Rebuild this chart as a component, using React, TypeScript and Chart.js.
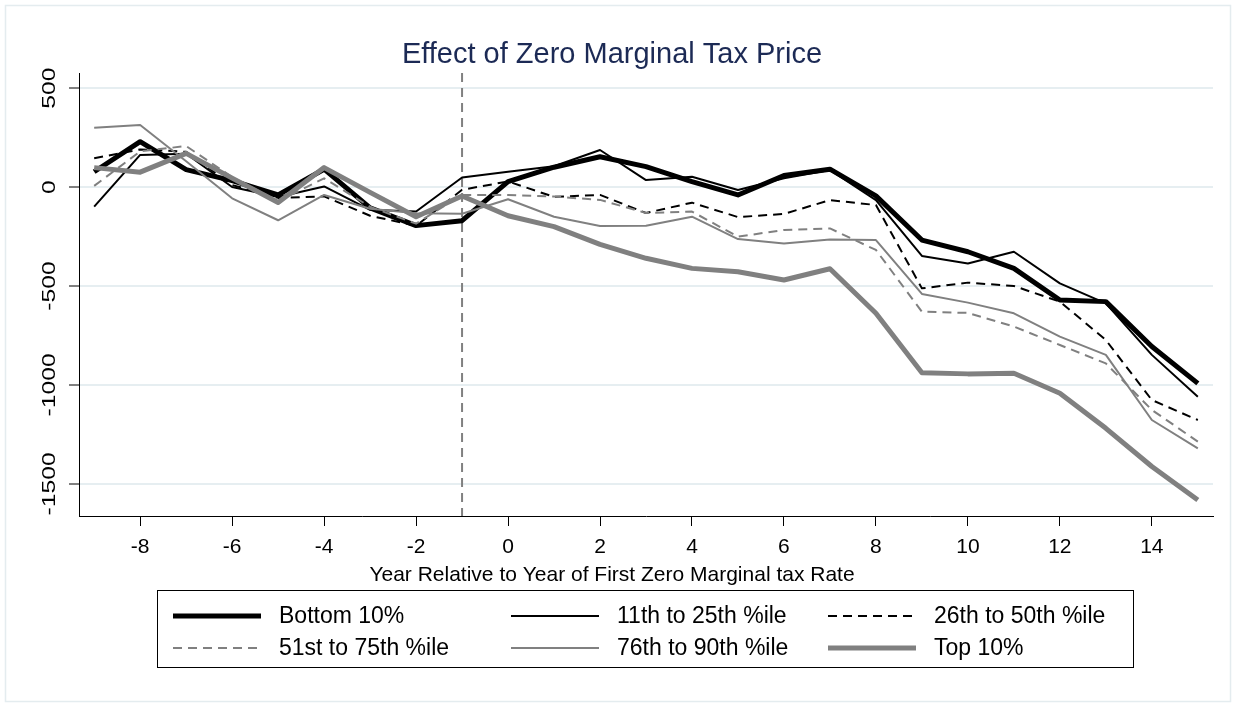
import React, { useEffect, useRef } from 'react';
import { Chart, registerables } from 'chart.js';

Chart.register(...registerables);

// ---- data ----
const years = [-9, -8, -7, -6, -5, -4, -3, -2, -1, 0, 1, 2, 3, 4, 5, 6, 7, 8, 9, 10, 11, 12, 13, 14, 15];

const bottom10 = [77, 229, 88, 32, -40, 90, -105, -195, -170, 27, 100, 153, 103, 27, -40, 58, 90, -45, -268, -327, -411, -571, -579, -806, -992];
const p11to25 = [-99, 162, 168, 0, -50, 3, -115, -124, 48, 77, 105, 187, 35, 52, -15, 44, 86, -66, -348, -386, -327, -487, -588, -848, -1059];
const p26to50 = [145, 190, 178, 10, -55, -47, -145, -196, -14, 28, -50, -40, -131, -79, -152, -136, -66, -91, -512, -483, -500, -579, -773, -1076, -1177];
const p51to75 = [6, 180, 207, 50, -72, 44, -100, -185, -40, -40, -48, -65, -131, -124, -251, -217, -209, -318, -630, -636, -705, -798, -891, -1126, -1286];
const p76to90 = [299, 313, 130, -57, -168, -40, -110, -133, -135, -62, -150, -197, -196, -150, -263, -285, -265, -268, -540, -584, -638, -756, -848, -1177, -1320];
const top10 = [98, 75, 170, 45, -78, 98, -27, -150, -45, -145, -200, -290, -360, -411, -428, -470, -413, -638, -938, -944, -941, -1042, -1219, -1412, -1581];

const seriesLabels = ['Bottom 10%', '11th to 25th %ile', '26th to 50th %ile', '51st to 75th %ile', '76th to 90th %ile', 'Top 10%'];
const seriesValues = [bottom10, p11to25, p26to50, p51to75, p76to90, top10];

const xTicks = [-8, -6, -4, -2, 0, 2, 4, 6, 8, 10, 12, 14];
const yTicks = [500, 0, -500, -1000, -1500];
const eventYear = -1;

const titleText = 'Effect of Zero Marginal Tax Price';
const xAxisTitle = 'Year Relative to Year of First Zero Marginal tax Rate';

// ---- styles ----
const FONT = '"Liberation Sans", Arial, Helvetica, sans-serif';
const BLACK = '#000000';
const GRAY = '#808080';
const seriesStyles = [
  { color: BLACK, width: 5, dash: [] as number[] },
  { color: BLACK, width: 2, dash: [] as number[] },
  { color: BLACK, width: 2, dash: [9, 6] },
  { color: GRAY, width: 2, dash: [9, 6] },
  { color: GRAY, width: 2, dash: [] as number[] },
  { color: GRAY, width: 5, dash: [] as number[] },
];

const decorPlugin = {
  id: 'decor',
  beforeDraw(chart: any) {
    const ctx = chart.ctx;
    ctx.save();
    ctx.fillStyle = '#ffffff';
    ctx.fillRect(0, 0, chart.width, chart.height);
    ctx.strokeStyle = '#e4ecef';
    ctx.lineWidth = 1.5;
    ctx.strokeRect(5.5, 5.5, chart.width - 11, chart.height - 11);
    ctx.restore();
  },
  beforeDatasetsDraw(chart: any) {
    const ctx = chart.ctx;
    const xs = chart.scales.x;
    const area = chart.chartArea;
    const px = xs.getPixelForValue(eventYear);
    ctx.save();
    ctx.strokeStyle = GRAY;
    ctx.lineWidth = 2;
    ctx.setLineDash([9, 6]);
    ctx.beginPath();
    ctx.moveTo(px, area.top);
    ctx.lineTo(px, area.bottom);
    ctx.stroke();
    ctx.restore();
  },
  afterDraw(chart: any) {
    const ctx = chart.ctx;
    const ys = chart.scales.y;
    const area = chart.chartArea;
    ctx.save();
    // title
    ctx.fillStyle = '#1c2a55';
    ctx.font = `29px ${FONT}`;
    ctx.textAlign = 'center';
    ctx.textBaseline = 'alphabetic';
    ctx.fillText(titleText, 612, 63);

    // y tick labels (rotated)
    ctx.fillStyle = BLACK;
    ctx.font = `19px ${FONT}`;
    yTicks.forEach((v) => {
      const py = ys.getPixelForValue(v);
      ctx.save();
      ctx.translate(area.left - 24, py);
      ctx.rotate(-Math.PI / 2);
      ctx.scale(1.3, 1);
      ctx.textAlign = 'center';
      ctx.textBaseline = 'alphabetic';
      ctx.fillText(String(v), 0, 0);
      ctx.restore();
    });

    // x axis title
    ctx.font = `21px ${FONT}`;
    ctx.textAlign = 'center';
    ctx.fillText(xAxisTitle, 612, 581);

    // legend
    const bx = 157, by = 590, bw = 976, bh = 77;
    ctx.strokeStyle = BLACK;
    ctx.lineWidth = 1;
    ctx.strokeRect(bx + 0.5, by + 0.5, bw, bh);
    const colX = [173, 511, 828];
    const rowY = [616, 648];
    const lineLen = 88;
    ctx.font = `23px ${FONT}`;
    ctx.textAlign = 'left';
    ctx.textBaseline = 'middle';
    chart.data.datasets.forEach((ds: any, i: number) => {
      const cx = colX[i % 3];
      const cy = rowY[Math.floor(i / 3)];
      ctx.save();
      ctx.strokeStyle = ds.borderColor;
      ctx.lineWidth = ds.borderWidth;
      ctx.setLineDash(ds.borderDash || []);
      ctx.beginPath();
      ctx.moveTo(cx, cy);
      ctx.lineTo(cx + lineLen, cy);
      ctx.stroke();
      ctx.restore();
      ctx.fillStyle = BLACK;
      ctx.fillText(ds.label, cx + lineLen + 18, cy + 1);
    });
    ctx.restore();
  },
};

export default function App() {
  const canvasRef = useRef<HTMLCanvasElement | null>(null);

  useEffect(() => {
    const canvas = canvasRef.current;
    if (!canvas) return;
    const datasets = seriesValues.map((vals, i) => ({
      label: seriesLabels[i],
      data: years.map((x, j) => ({ x, y: vals[j] })),
      borderColor: seriesStyles[i].color,
      backgroundColor: seriesStyles[i].color,
      borderWidth: seriesStyles[i].width,
      borderDash: seriesStyles[i].dash,
      borderJoinStyle: 'round' as const,
      pointRadius: 0,
      tension: 0,
      fill: false,
      order: seriesValues.length - i,
    }));

    const chart = new Chart(canvas, {
      type: 'line',
      data: { datasets },
      options: {
        animation: false,
        responsive: false,
        devicePixelRatio: 1,
        layout: { padding: { top: 73, right: 23, left: 0, bottom: 0 } },
        plugins: { legend: { display: false }, title: { display: false }, tooltip: { enabled: false } },
        scales: {
          x: {
            type: 'linear',
            min: -9.33,
            max: 15.33,
            afterBuildTicks: (s: any) => {
              s.ticks = xTicks.map((v) => ({ value: v }));
            },
            afterFit: (s: any) => {
              s.height = 191;
            },
            grid: { drawOnChartArea: false, drawTicks: true, tickLength: 10, color: BLACK, tickColor: BLACK, lineWidth: 1 },
            border: { display: true, color: BLACK, width: 1 },
            ticks: {
              color: BLACK,
              font: { size: 21, family: FONT },
              padding: 9,
              maxRotation: 0,
              minRotation: 0,
              autoSkip: false,
              callback: (v: any) => String(v),
            },
          },
          y: {
            type: 'linear',
            min: -1662,
            max: 576,
            afterBuildTicks: (s: any) => {
              s.ticks = yTicks.map((v) => ({ value: v }));
            },
            afterFit: (s: any) => {
              s.width = 79;
            },
            grid: { color: '#e6eef1', lineWidth: 2, tickColor: BLACK, tickWidth: 1, tickLength: 10, drawTicks: true },
            border: { display: true, color: BLACK, width: 1 },
            ticks: { display: false },
          },
        },
      },
      plugins: [decorPlugin],
    });
    return () => chart.destroy();
  }, []);

  return (
    <div style={{ position: 'absolute', left: 0, top: 0, width: 1236, height: 707, background: '#fff' }}>
      <canvas ref={canvasRef} width={1236} height={707} style={{ width: 1236, height: 707, display: 'block' }} />
    </div>
  );
}
